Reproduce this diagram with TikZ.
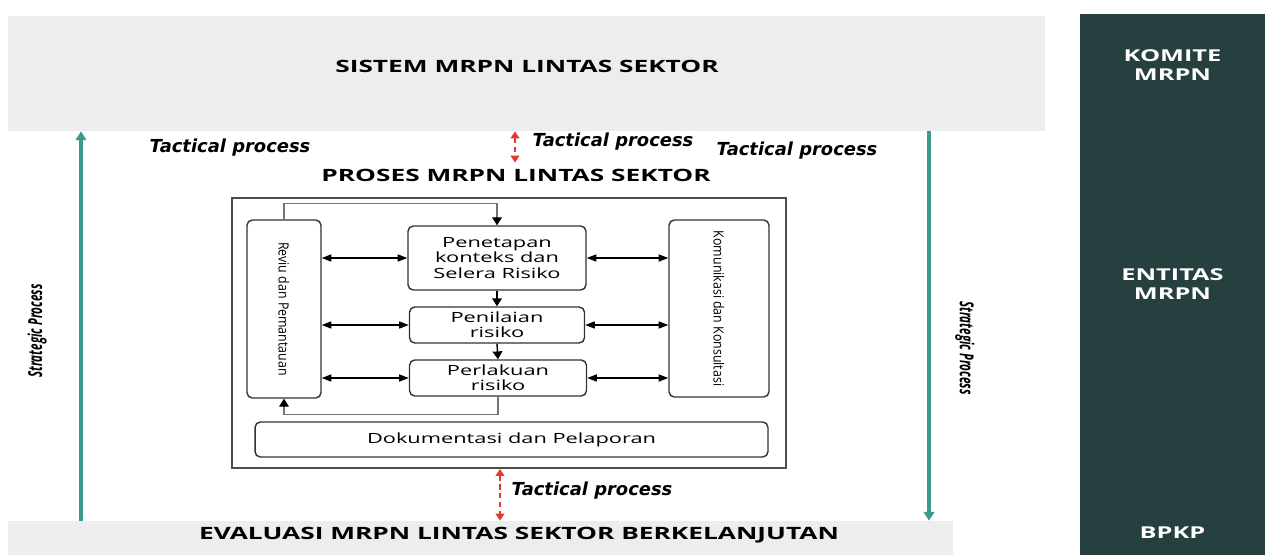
\documentclass[tikz,border=0pt]{standalone}
\usepackage{fontspec}
\setmainfont{Open Sans}
\newfontfamily\widesans[FakeStretch=1.55]{Open Sans}
\newfontfamily\narrowsans[FakeStretch=0.88]{Open Sans}
\newfontfamily\stratsans[FakeStretch=0.6]{Open Sans}
\newfontfamily\tactsans{DejaVu Sans}
\newcommand\sidetext{\narrowsans\fontsize{8}{9}\selectfont}
\usepackage{tikz}
\usetikzlibrary{arrows.meta,positioning,calc}
\definecolor{mrpnband}{HTML}{EDEDED}
\definecolor{mrpndark}{HTML}{264040}
\definecolor{mrpnteal}{HTML}{3D9A8B}
\definecolor{mrpnred}{HTML}{E53A2E}
\definecolor{mrpnink}{HTML}{333333}

\begin{document}
\begin{tikzpicture}[x=0.02cm,y=-0.02cm,
    titletext/.style={font=\widesans\bfseries\fontsize{9.65}{12}\selectfont,text=black},
    paneltext/.style={font=\widesans\bfseries\fontsize{9.3}{10.8}\selectfont,text=white,align=center},
    tactlbl/.style={font=\tactsans\bfseries\itshape\fontsize{10.2}{12}\selectfont},
    stratlbl/.style={font=\stratsans\bfseries\itshape\fontsize{11}{12}\selectfont},
    stepbox/.style={draw=mrpnink,line width=0.8pt,rounded corners=3pt,inner sep=0,align=center,
      font=\widesans\fontsize{8}{8.6}\selectfont},
    hlink/.style={{Triangle[length=5.5pt,width=4pt]}-{Triangle[length=5.5pt,width=4pt]},line width=0.8pt},
    vlink/.style={-{Triangle[length=4.5pt,width=5.5pt]},line width=0.8pt},
    loopline/.style={draw=black!55,line width=0.6pt,-{Triangle[length=4.5pt,width=5.5pt,color=black]}},
    stratarrow/.style={draw=mrpnteal,line width=1.8pt,-{Triangle[length=5pt,width=6pt]}},
    tactarrow/.style={draw=mrpnred,line width=1.2pt,dashed,dash pattern=on 3pt off 2pt,
      {Triangle[length=4pt,width=5pt]}-{Triangle[length=4pt,width=5pt]}}]
  \useasboundingbox (0,0) rectangle (1265,555);

  % bands and side panel
  \node[fill=mrpnband,inner sep=0,minimum width=20.74cm,minimum height=2.3cm] (sistem) at (526.5,73.5) {};
  \node[titletext] (sistemlbl) at (527,66) {SISTEM MRPN LINTAS SEKTOR};
  \node[fill=mrpnband,inner sep=0,minimum width=18.9cm,minimum height=0.68cm] (evaluasi) at (480.5,538) {};
  \node[titletext] (evaluasilbl) at (519,535) {EVALUASI MRPN LINTAS SEKTOR BERKELANJUTAN};
  \node[fill=mrpndark,inner sep=0,minimum width=3.7cm,minimum height=10.82cm] (panel) at (1172.5,284.5) {};
  \node[paneltext] (komite) at (1172.5,65) {KOMITE\\MRPN};
  \node[paneltext] (entitas) at (1172.5,284) {ENTITAS\\MRPN};
  \node[paneltext] (bpkp) at (1172.5,533) {BPKP};

  % strategic process
  \draw[stratarrow] (evaluasi.north -| 81,0) -- (sistem.south -| 81,0);
  \draw[stratarrow] (sistem.south -| 929,0) -- (evaluasi.north -| 929,0);
  \node[stratlbl,rotate=90] (stratleft) at (37,331) {Strategic Process};
  \node[stratlbl,rotate=-90] (stratright) at (965,348) {Strategic Process};

  % tactical process
  \node[tactlbl] (tactleft) at (230,148) {Tactical process};
  \node[tactlbl] (tactmid) at (613,142) {Tactical process};
  \node[tactlbl] (tactright) at (797,151) {Tactical process};
  \node[tactlbl] (tactbottom) at (592,491) {Tactical process};
  \node[titletext] (proses) at (516,175) {PROSES MRPN LINTAS SEKTOR};

  % proses box
  \node[draw=black!70,line width=1.1pt,inner sep=0,minimum width=11.08cm,minimum height=5.4cm] (frame) at (509,333) {};
  \draw[tactarrow] (sistem.south -| 515,0) -- (proses.north -| 515,0);
  \draw[tactarrow] (frame.south -| 500,0) -- (evaluasi.north -| 500,0);

  \node[stepbox,minimum width=1.48cm,minimum height=3.56cm] (reviu) at (284,309) {\rotatebox{-90}{\sidetext Reviu dan Pemantauan}};
  \node[stepbox,minimum width=2cm,minimum height=3.54cm] (komunikasi) at (719,308.5) {\rotatebox{-90}{\sidetext Komunikasi dan Konsultasi}};
  \node[stepbox,minimum width=3.56cm,minimum height=1.28cm] (penetapan) at (497,258) {Penetapan\\konteks dan\\Selera Risiko};
  \node[stepbox,minimum width=3.5cm,minimum height=0.72cm] (penilaian) at (497,325) {Penilaian\\risiko};
  \node[stepbox,minimum width=3.54cm,minimum height=0.72cm] (perlakuan) at (498,378) {Perlakuan\\risiko};
  \node[stepbox,minimum width=10.26cm,minimum height=0.7cm] (dokumentasi) at (511.5,439.5) {Dokumentasi dan Pelaporan};

  \foreach \b in {penetapan,penilaian,perlakuan}{
    \draw[hlink] (reviu.east |- \b.west) -- (\b.west);
    \draw[hlink] (\b.east) -- (komunikasi.west |- \b.east);
  }
  \draw[vlink] (penetapan.south) -- (penilaian.north);
  \draw[vlink] (penilaian.south) -- (perlakuan.north);
  \draw[loopline] (reviu.north) -- ++(0,-16) -| (penetapan.north);
  \draw[loopline] (perlakuan.south) -- ++(0,18) -| (reviu.south);
\end{tikzpicture}
\end{document}
